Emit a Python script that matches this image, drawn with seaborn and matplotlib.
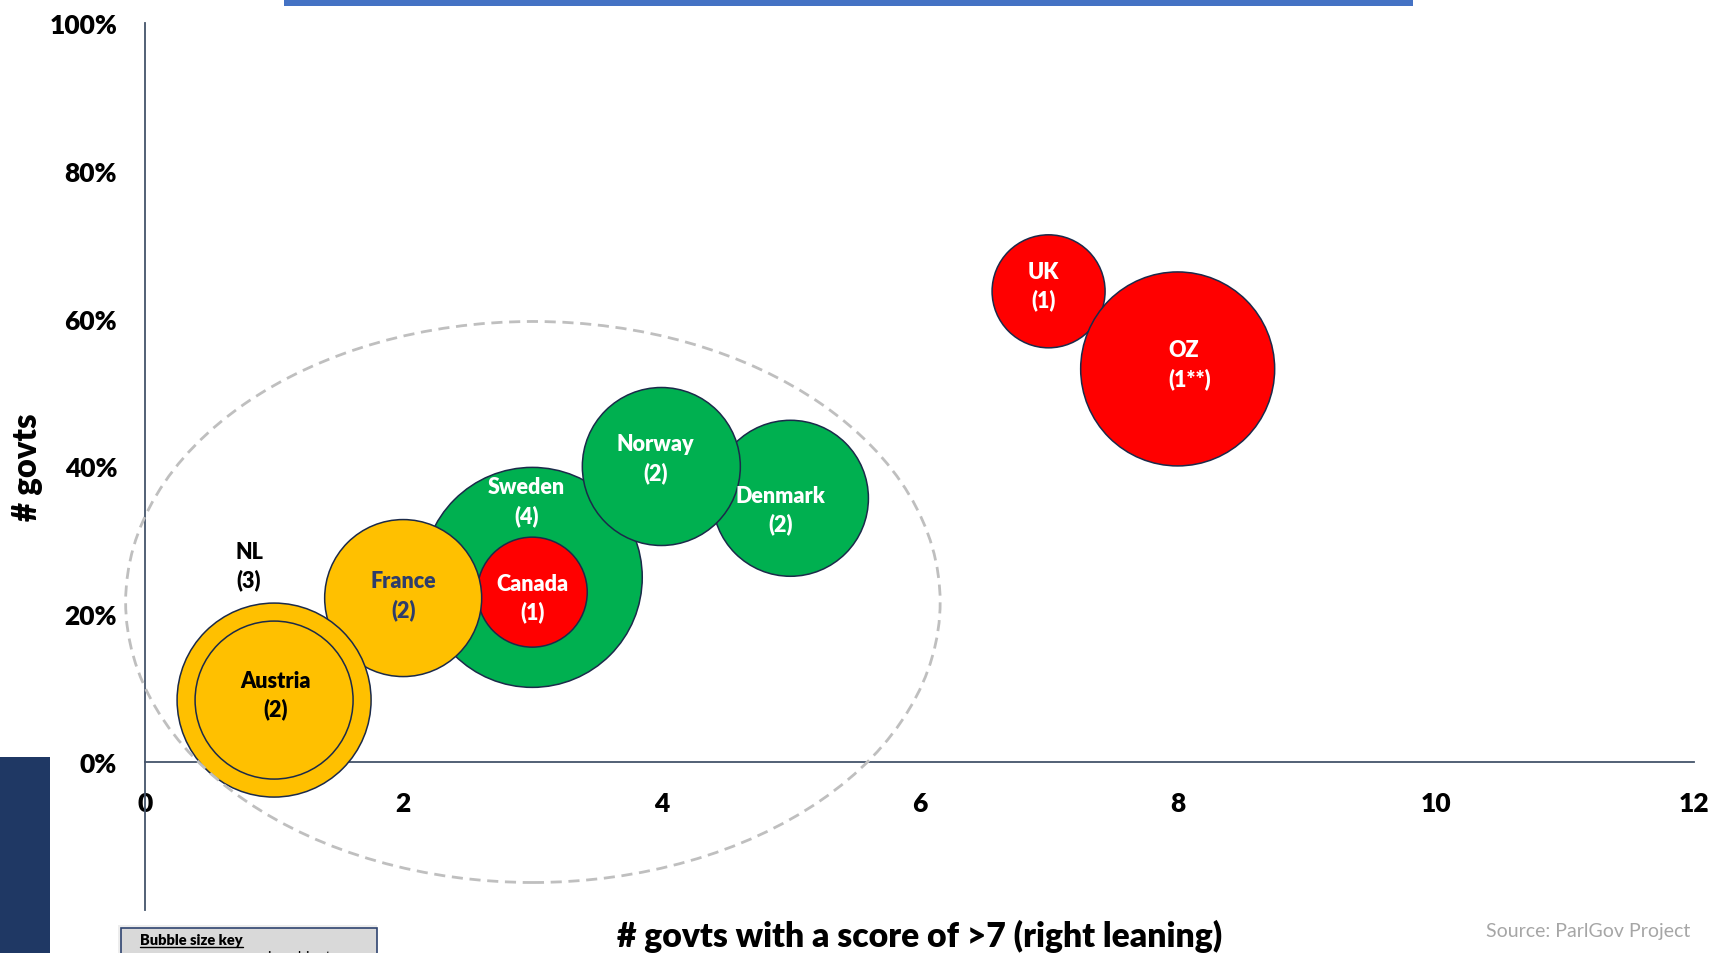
import numpy as np
import pandas as pd
import matplotlib
matplotlib.use("Agg")
import matplotlib.pyplot as plt
import seaborn as sns
from matplotlib.patches import Ellipse, Rectangle
from matplotlib.lines import Line2D

# ---------------- data ----------------
countries = ['Sweden', 'Canada', 'France', 'NL', 'Austria', 'Denmark', 'Norway', 'UK', 'OZ']
right_govts = [3, 3, 2, 1, 1, 5, 4, 7, 8]                 # x: # govts with a score of >7
share_govts = [0.25, 0.23, 0.222, 0.084, 0.084, 0.357, 0.40, 0.637, 0.532]  # y
count_labels = ['4', '1', '2', '3', '2', '2', '2', '1', '1**']
bubble_size = [22.0, 11.0, 15.7, 19.4, 15.8, 15.6, 15.8, 11.3, 19.4]  # relative bubble diameter
group = ['Green', 'Red', 'Amber', 'Amber', 'Amber', 'Green', 'Green', 'Red', 'Red']

x_ticks = [0, 2, 4, 6, 8, 10, 12]
y_ticks = [0, 0.2, 0.4, 0.6, 0.8, 1.0]
y_tick_labels = ['0%', '20%', '40%', '60%', '80%', '100%']

x_label = '# govts with a score of >7 (right leaning)'
y_label = '# govts'
source = 'Source: ParlGov Project'
key_title = 'Bubble size key'
key_line = 'in cabinet'

df = pd.DataFrame({'country': countries, 'x': right_govts, 'y': share_govts,
                   'count': count_labels, 'size': bubble_size, 'group': group})

# ---------------- style ----------------
sns.set_theme(style='white')
plt.rcParams['font.family'] = ['Lato', 'DejaVu Sans']
BOLD = 'heavy'

palette = {'Green': '#00B050', 'Amber': '#FFC000', 'Red': '#FF0000'}
edge_col = '#1B2A4A'
axis_col = '#44546A'

DPI = 100
fig = plt.figure(figsize=(17.14, 9.54), dpi=DPI)
ax = fig.add_axes([145 / 1714, 43 / 954, 1549 / 1714, 887 / 954])

px2pt = 72 / DPI
s_vals = [(v * 10 * px2pt) ** 2 for v in df['size']]

sns.scatterplot(data=df, x='x', y='y', hue='group', palette=palette, s=s_vals,
                edgecolor=edge_col, linewidth=1.1, alpha=1, legend=False,
                ax=ax, zorder=3, clip_on=False)

# labels
label_style = {
    'Sweden': ((-4, 55), 'white'), 'Canada': ((0, -4), 'white'),
    'France': ((0, 2), '#2E3D6B'), 'NL': ((-18, 97), 'black'),
    'Austria': ((1, 4), 'black'), 'Denmark': ((-7, -8), 'white'),
    'Norway': ((-4, 6), 'white'), 'UK': ((-3.6, 4), 'white'),
    'OZ': ((9, 3.6), 'white'),
}
for _, r in df.iterrows():
    off, col = label_style[r['country']]
    ax.annotate(f"{r['country']}\n({r['count']})", (r['x'], r['y']),
                xytext=off, textcoords='offset points', ha='center', va='center',
                multialignment='left' if r['country'] == 'OZ' else 'center',
                fontsize=15.5, fontweight=BOLD, color=col, linespacing=1.38,
                zorder=6)

# dashed grouping ellipse
ell = Ellipse((3.005, 0.2167), 6.31, 0.759, fill=False, edgecolor='#BFBFBF',
              linewidth=2.0, linestyle=(0, (4, 2.4)), zorder=5, clip_on=False)
ax.add_patch(ell)

# axes
ax.set_xlim(0, 12)
ax.set_ylim(-0.2, 1.0)
ax.set_xticks(x_ticks)
ax.set_xticklabels([str(t) for t in x_ticks])
ax.set_yticks(y_ticks)
ax.set_yticklabels(y_tick_labels)
for sp in ['top', 'right']:
    ax.spines[sp].set_visible(False)
ax.spines['bottom'].set_position(('data', 0))
for sp in ['bottom', 'left']:
    ax.spines[sp].set_color(axis_col)
    ax.spines[sp].set_linewidth(1.3)
    ax.spines[sp].set_zorder(2)
ax.tick_params(axis='x', length=0, pad=21, labelsize=19)
ax.tick_params(axis='y', length=0, pad=20, labelsize=19)
for lab in ax.get_xticklabels() + ax.get_yticklabels():
    lab.set_fontweight(BOLD)
    lab.set_color('black')
ax.set_xlabel('')
ax.set_ylabel(y_label, fontsize=23.5, fontweight=BOLD, color='black')
ax.yaxis.set_label_coords(-0.066, 0.5)
ax.patch.set_alpha(0)

fig.text(920 / 1714, (954 - 947) / 954, x_label, ha='center', va='baseline',
         fontsize=24.2, fontweight=BOLD, color='black')
fig.text(1690 / 1714, (954 - 937) / 954, source, ha='right', va='baseline',
         fontsize=14, color='#A6A6A6')

# decorative slide elements
fig.patches.append(Rectangle((284 / 1714, 1 - 7 / 954), (1413 - 284) / 1714, 0.02,
                             transform=fig.transFigure, facecolor='#4472C4',
                             edgecolor='none', zorder=1))
fig.patches.append(Rectangle((0, -0.01), 50 / 1714, (196 / 954) + 0.01,
                             transform=fig.transFigure, facecolor='#1F3864',
                             edgecolor='none', zorder=1))
fig.patches.append(Rectangle((118 / 1714, -0.01), (377 - 118) / 1714, (954 - 926) / 954 + 0.01,
                             transform=fig.transFigure, facecolor='#EDEDED',
                             edgecolor='none', zorder=1))
fig.patches.append(Rectangle((121 / 1714, -0.01), (377 - 121) / 1714, (954 - 929) / 954 + 0.01,
                             transform=fig.transFigure, facecolor='#D9D9D9',
                             edgecolor='#2F4470', linewidth=1.2, zorder=1))
kt = fig.text(140 / 1714, (954 - 945) / 954, key_title, ha='left', va='baseline',
              fontsize=10.5, fontweight=BOLD, color='black')
fig.text(268 / 1714, (954 - 962) / 954, key_line, ha='left', va='baseline',
         fontsize=10.5, color='black')

fig.canvas.draw()
bb = kt.get_window_extent()
fig.lines.append(Line2D([bb.x0 / fig.bbox.width, bb.x1 / fig.bbox.width],
                        [(954 - 947.5) / 954] * 2, transform=fig.transFigure,
                        color='black', linewidth=1.0))

fig.savefig('out.png', dpi=DPI)
